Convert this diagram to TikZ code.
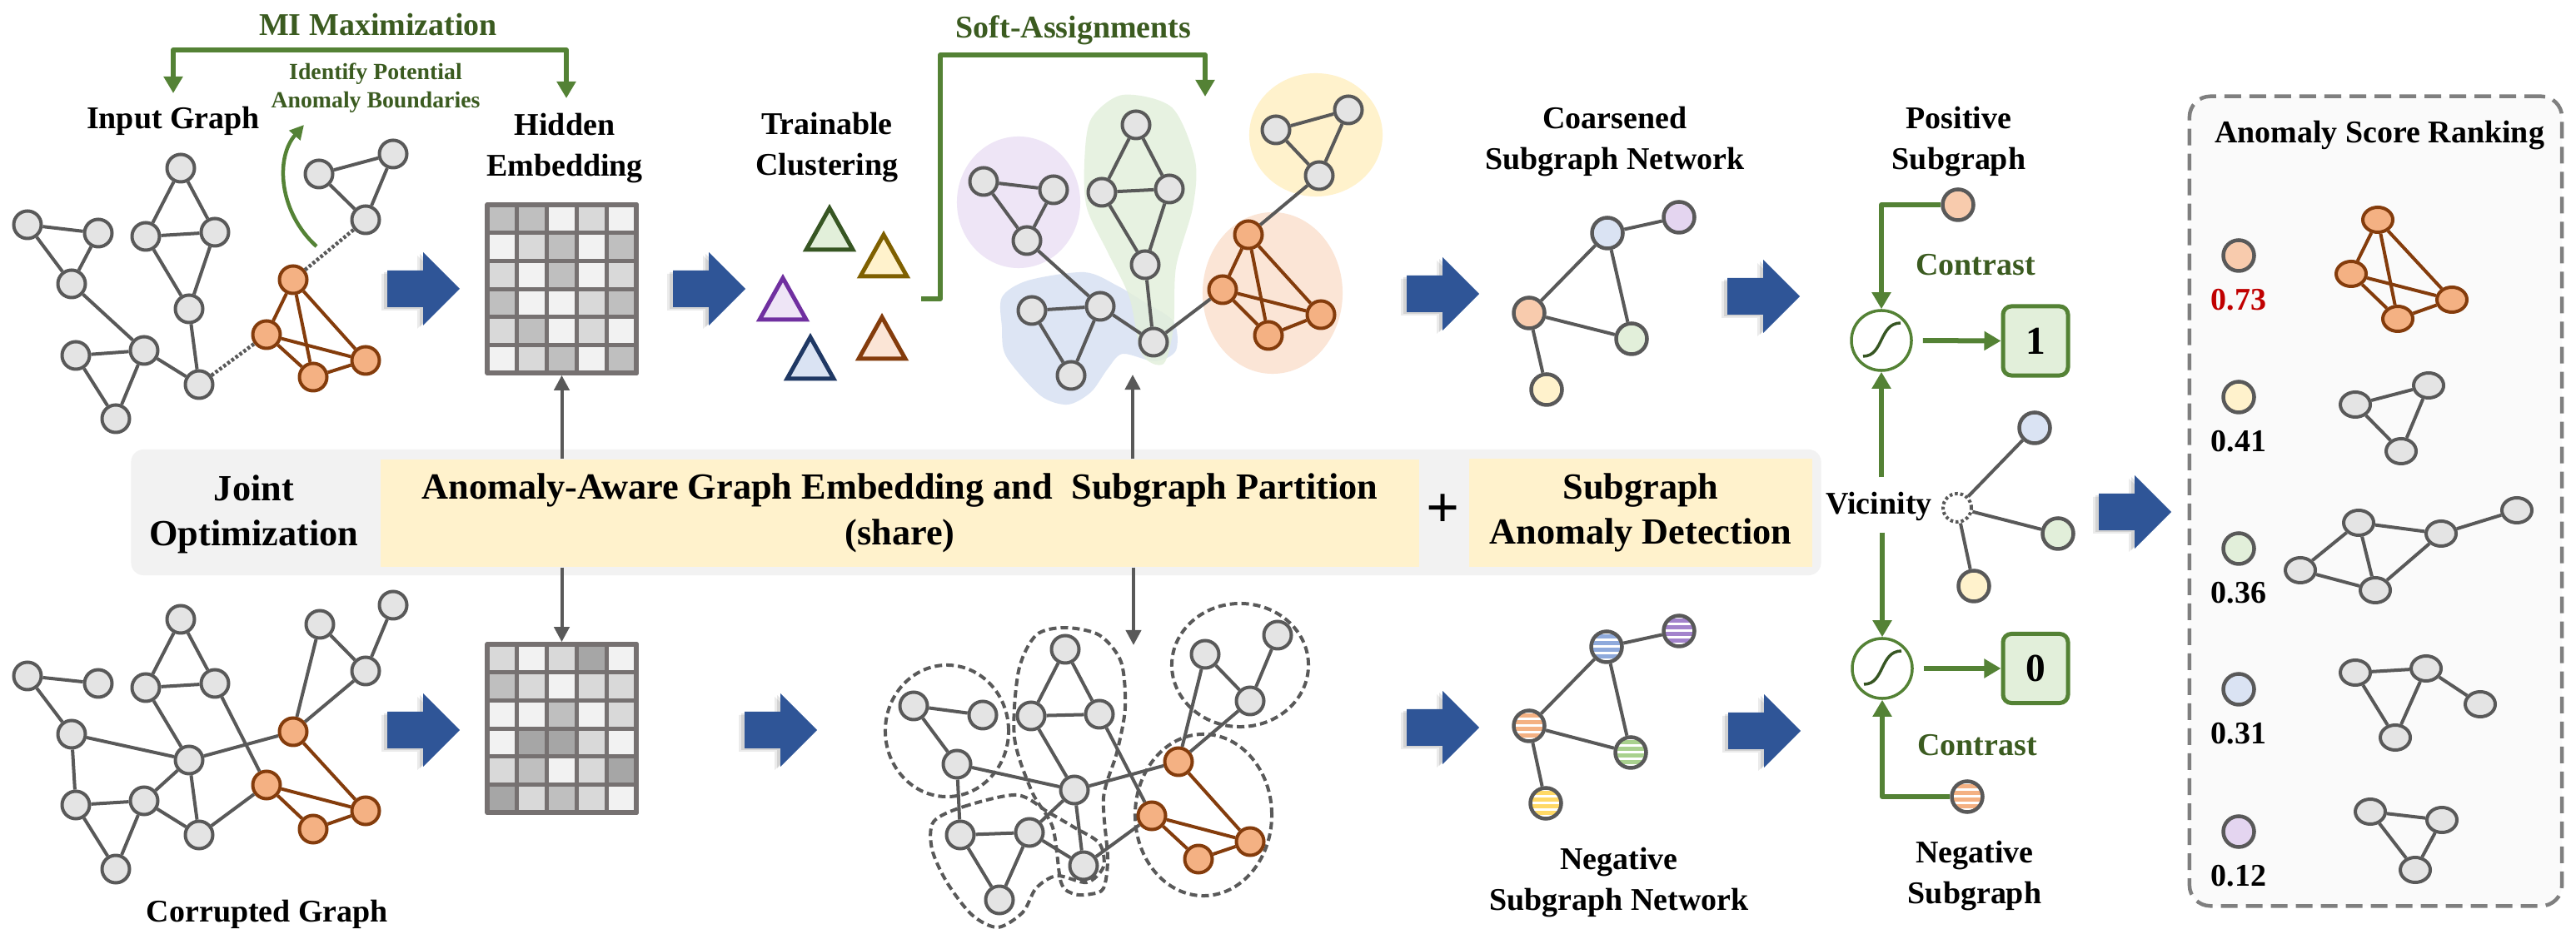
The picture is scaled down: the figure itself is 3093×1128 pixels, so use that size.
\documentclass[tikz,border=0pt]{standalone}
\usepackage{fontspec}
\setmainfont{Liberation Serif}
\usetikzlibrary{arrows.meta,shapes.geometric,calc}

\definecolor{edgegray}{HTML}{595959}
\definecolor{nodegray}{HTML}{E4E4E4}
\definecolor{orangefill}{HTML}{F4B183}
\definecolor{orangeline}{HTML}{843C0C}
\definecolor{arrowblue}{HTML}{2F5597}
\definecolor{linegreen}{HTML}{548235}
\definecolor{textgreen}{HTML}{3B5B20}
\definecolor{gridgray}{HTML}{767171}
\definecolor{cellA}{HTML}{F2F2F2}
\definecolor{cellB}{HTML}{D9D9D9}
\definecolor{cellC}{HTML}{BFBFBF}
\definecolor{cellD}{HTML}{A6A6A6}
\definecolor{bandgray}{HTML}{F2F2F2}
\definecolor{bandyellow}{HTML}{FFF2CC}
\definecolor{lpurple}{HTML}{EEE5F6}
\definecolor{lgreen}{HTML}{E2EFDA}
\definecolor{lblue}{HTML}{DAE3F3}
\definecolor{lyellow}{HTML}{FFF2CC}
\definecolor{lorange}{HTML}{FBE5D6}
\definecolor{corange}{HTML}{F8CBAD}
\definecolor{cpurple}{HTML}{E4D5F0}
\definecolor{tgreen}{HTML}{375623}
\definecolor{tyellow}{HTML}{7F6000}
\definecolor{tpurple}{HTML}{7030A0}
\definecolor{tnavy}{HTML}{1F3864}
\definecolor{sblue}{HTML}{8FAADC}
\definecolor{spurple}{HTML}{A383CC}
\definecolor{sorange}{HTML}{F4B183}
\definecolor{sgreen}{HTML}{A9D18E}
\definecolor{syellow}{HTML}{FFD966}
\definecolor{scorered}{HTML}{C00000}
\definecolor{dashgray}{HTML}{7F7F7F}
\definecolor{rankfill}{HTML}{FAFAFA}

\tikzset{stripenode/.style={cnode, fill=white, path picture={
  \foreach \k in {-12,-4,4,12}
    \fill[#1] ($(path picture bounding box.center)+(-25,\k-2.5)$) rectangle ++(50,5);}}}

\begin{document}
\begin{tikzpicture}[x=0.01cm, y=-0.01cm, line join=round,
  bigarrow/.pic={
    \fill[black, opacity=0.08] (-50,-18) -- (-7,-18) -- (-7,-40) -- (37,4) -- (-7,48) -- (-7,26) -- (-50,26) -- cycle;
    \fill[black, opacity=0.1] (-47,-20) -- (-4,-20) -- (-4,-42) -- (40,2) -- (-4,46) -- (-4,24) -- (-47,24) -- cycle;
    \fill[arrowblue] (-43,-22) -- (0,-22) -- (0,-44) -- (44,0) -- (0,44) -- (0,22) -- (-43,22) -- cycle;
  }]
  \tikzstyle{gnode} = [circle, draw=edgegray, fill=nodegray, line width=0.04cm, minimum size=0.33cm, inner sep=0]
  \tikzstyle{onode} = [gnode, draw=orangeline, fill=orangefill]
  \tikzstyle{cnode} = [circle, draw=edgegray, line width=0.045cm, minimum size=0.37cm, inner sep=0]
  \tikzstyle{rnode} = [ellipse, draw=edgegray, fill=nodegray, line width=0.04cm, minimum width=0.36cm, minimum height=0.30cm, inner sep=0]
  \tikzstyle{ronode} = [rnode, draw=orangeline, fill=orangefill]
  \tikzstyle{gedge} = [draw=edgegray, line width=0.04cm]
  \tikzstyle{oedge} = [draw=orangeline, line width=0.04cm]
  \tikzstyle{dotedge} = [draw=edgegray, line width=0.045cm, dash pattern=on 0.035cm off 0.025cm]
  \tikzstyle{part} = [draw=edgegray, line width=0.04cm, dash pattern=on 0.09cm off 0.05cm]
  \tikzstyle{lbl} = [font=\fontsize{10.8}{13.8}\selectfont\bfseries, align=center]
  \tikzstyle{glbl} = [lbl, text=textgreen]
  \tikzstyle{slbl} = [font=\fontsize{7.9}{9.6}\selectfont\bfseries, text=textgreen, align=center]
  \tikzstyle{bandtxt} = [font=\fontsize{12.6}{15.5}\selectfont\bfseries, align=center]
  \tikzstyle{ybox} = [bandtxt, fill=bandyellow, minimum height=1.29cm, inner sep=0]
  \tikzstyle{embgrid} = [draw=gridgray, line width=0.055cm, minimum width=1.79cm, minimum height=2.02cm, inner sep=0]
  \tikzstyle{grayarrow} = [->, draw=edgegray, line width=0.04cm, >={Triangle[length=0.18cm,width=0.18cm]}]
  \tikzstyle{greenarrow} = [->, draw=linegreen, line width=0.06cm, >={Triangle[length=0.2cm,width=0.22cm]}]
  \tikzstyle{sigm} = [circle, draw=linegreen, line width=0.035cm, minimum size=0.72cm, inner sep=0]
  \tikzstyle{sigline} = [draw=tgreen, line width=0.035cm]
  \tikzstyle{resbox} = [rectangle, rounded corners=0.1cm, draw=linegreen, fill=lgreen, line width=0.05cm, minimum width=0.78cm, minimum height=0.83cm, font=\fontsize{13.5}{14}\selectfont\bfseries]
  \tikzstyle{vicnode} = [circle, draw=edgegray, fill=white, line width=0.04cm, dash pattern=on 0.035cm off 0.03cm, minimum size=0.34cm, inner sep=0]
  \tikzstyle{rankbox} = [draw=dashgray, fill=rankfill, line width=0.045cm, dash pattern=on 0.2cm off 0.1cm, rounded corners=0.25cm, minimum width=4.47cm, minimum height=9.72cm]

  \fill[white] (0,0) rectangle (3093,1128);
  \useasboundingbox (0,0) rectangle (3093,1128);

  % joint optimization band
  \node[fill=bandgray, rounded corners=0.15cm, minimum width=20.28cm, minimum height=1.51cm] (band) at (1172,615.5) {};
  \node[bandtxt] (joint) at (305,618) {Joint\\Optimization};
  \node[ybox, minimum width=12.47cm] (yb1) at (1080.5,616.5) {Anomaly-Aware Graph Embedding and\ \ Subgraph Partition\\(share)};
  \node[font=\fontsize{20}{20}\selectfont\bfseries] (plus) at (1733,614) {+};
  \node[ybox, minimum width=4.12cm] (yb2) at (1970,616) {Subgraph\\Anomaly Detection};

  % labels
  \node[glbl] (milbl) at (454,30) {MI Maximization};
  \node[slbl] (idlbl) at (451,106) {Identify Potential\\Anomaly Boundaries};
  \node[lbl] (inlbl) at (208,145) {Input Graph};
  \node[lbl] (hidlbl) at (678,178) {Hidden\\Embedding};
  \node[lbl] (trlbl) at (993,177) {Trainable\\Clustering};
  \node[glbl] (salbl) at (1289,36) {Soft-Assignments};
  \node[lbl] (coarlbl) at (1939,170) {Coarsened\\Subgraph Network};
  \node[lbl] (poslbl) at (2352,170) {Positive\\Subgraph};
  \node[lbl] (corlbl) at (321,1098) {Corrupted Graph};
  \node[lbl] (negnetlbl) at (1944,1060) {Negative\\Subgraph Network};
  \node[lbl] (neglbl) at (2371,1052) {Negative\\Subgraph};

  % input graph
  \node[gnode] (in1) at (33,270) {};
  \node[gnode] (in2) at (118,280) {};
  \node[gnode] (in3) at (86,341) {};
  \node[gnode] (in4) at (217,202) {};
  \node[gnode] (in5) at (175,284) {};
  \node[gnode] (in6) at (258,279) {};
  \node[gnode] (in7) at (227,371) {};
  \node[gnode] (in8) at (91,427) {};
  \node[gnode] (in9) at (173,421) {};
  \node[gnode] (in10) at (239,462) {};
  \node[gnode] (in11) at (139,503) {};
  \node[gnode] (in12) at (383,209) {};
  \node[gnode] (in13) at (472,185) {};
  \node[gnode] (in14) at (439,264) {};
  \node[onode] (ina) at (352,336) {};
  \node[onode] (inb) at (320,402) {};
  \node[onode] (inc) at (439,433) {};
  \node[onode] (ind) at (376,453) {};
  \foreach \a/\b in {in1/in2,in1/in3,in2/in3,in3/in9,in4/in5,in4/in6,in5/in6,in5/in7,in6/in7,in7/in10,in8/in9,in8/in11,in9/in11,in9/in10,in12/in13,in12/in14,in13/in14}
    \draw[gedge] (\a) -- (\b);
  \foreach \a/\b in {ina/inb,ina/inc,ina/ind,inb/inc,inb/ind,inc/ind}
    \draw[oedge] (\a) -- (\b);
  \draw[dotedge] (in10) -- (inb) (ina) -- (in14);

  % corrupted graph
  \node[gnode] (co1) at (33,812) {};
  \node[gnode] (co2) at (118,821) {};
  \node[gnode] (co3) at (86,882) {};
  \node[gnode] (co4) at (217,744) {};
  \node[gnode] (co5) at (175,826) {};
  \node[gnode] (co6) at (258,821) {};
  \node[gnode] (co7) at (227,913) {};
  \node[gnode] (co8) at (91,967) {};
  \node[gnode] (co9) at (173,962) {};
  \node[gnode] (co10) at (239,1003) {};
  \node[gnode] (co11) at (139,1044) {};
  \node[gnode] (co12) at (384,750) {};
  \node[gnode] (co13) at (472,727) {};
  \node[gnode] (co14) at (439,806) {};
  \node[onode] (coa) at (352,879) {};
  \node[onode] (cob) at (320,943) {};
  \node[onode] (coc) at (439,974) {};
  \node[onode] (cod) at (376,996) {};
  \foreach \a/\b in {co1/co2,co1/co3,co3/co7,co3/co8,co4/co5,co4/co6,co5/co6,co5/co7,co6/cob,co7/coa,co7/co9,co7/co10,co8/co9,co8/co11,co9/co11,co9/co10,co10/cob,co12/co14,co13/co14,co12/coa,co14/coa}
    \draw[gedge] (\a) -- (\b);
  \foreach \a/\b in {coa/coc,cob/coc,cob/cod,cod/coc}
    \draw[oedge] (\a) -- (\b);

  % blue block arrows
  \pic (ar1) at (508,347) {bigarrow};
  \pic (ar2) at (851,347) {bigarrow};
  \pic (ar3) at (1732,353) {bigarrow};
  \pic (ar4) at (2117,356) {bigarrow};
  \pic (ar5) at (2563,615) {bigarrow};
  \pic (ar6) at (508,877) {bigarrow};
  \pic (ar7) at (937,877) {bigarrow};
  \pic (ar8) at (1732,874) {bigarrow};
  \pic (ar9) at (2118,878) {bigarrow};

  % hidden embeddings
  \foreach \cells [count=\r from 0] in {{C,C,A,B,A},{A,B,C,A,C},{B,A,C,A,B},{C,A,A,B,C},{B,C,A,B,A},{A,B,C,A,C}}
    \foreach \c [count=\k from 0] in \cells
      \filldraw[fill=cell\c, draw=gridgray, line width=0.05cm] (585+35.8*\k,246+33.67*\r) rectangle ++(35.8,33.67);
  \node[embgrid] (embtop) at (674.5,347) {};
  \foreach \cells [count=\r from 0] in {{B,A,B,D,A},{C,B,A,B,B},{A,A,C,A,B},{A,D,D,B,A},{B,C,A,B,D},{D,B,C,B,A}}
    \foreach \c [count=\k from 0] in \cells
      \filldraw[fill=cell\c, draw=gridgray, line width=0.05cm] (585+35.8*\k,774+33.67*\r) rectangle ++(35.8,33.67);
  \node[embgrid] (embbot) at (674.5,875) {};

  % trainable clusters
  \foreach \x/\y/\c/\f in {996/250/tgreen/lgreen, 1061/282/tyellow/lyellow, 940/334/tpurple/lpurple, 1059/381/orangeline/lorange, 973/405/tnavy/lblue}
    \filldraw[draw=\c, fill=\f, line width=0.05cm, line join=miter] (\x,\y) -- ++(-28,50) -- ++(56,0) -- cycle;

  % soft-assigned graph
  \fill[lpurple] (1223,243) ellipse [x radius=0.74cm, y radius=0.79cm];
  \fill[lyellow] (1580,162) ellipse [x radius=0.80cm, y radius=0.74cm];
  \fill[lorange] (1528,352) ellipse [x radius=0.84cm, y radius=0.97cm];
  \fill[lblue, opacity=0.9] plot[smooth cycle] coordinates {(1203,357) (1234,337) (1302,327) (1341,343) (1371,361) (1409,386) (1412,421) (1387,434) (1348,425) (1330,443) (1310,471) (1282,486) (1249,475) (1208,428) (1203,393)};
  \fill[lgreen, opacity=0.8] plot[smooth cycle] coordinates {(1310,143) (1348,114) (1407,129) (1435,193) (1432,250) (1412,321) (1409,393) (1397,437) (1371,425) (1356,357) (1330,303) (1305,250) (1302,196)};
  \node[gnode] (clp1) at (1181,218) {};
  \node[gnode] (clp2) at (1265,228) {};
  \node[gnode] (clp3) at (1233,289) {};
  \node[gnode] (clg1) at (1364,150) {};
  \node[gnode] (clg2) at (1323,231) {};
  \node[gnode] (clg3) at (1404,227) {};
  \node[gnode] (clg4) at (1375,318) {};
  \node[gnode] (clg5) at (1385,411) {};
  \node[gnode] (clu1) at (1239,373) {};
  \node[gnode] (clu2) at (1321,368) {};
  \node[gnode] (clu3) at (1286,451) {};
  \node[gnode] (cly1) at (1532,156) {};
  \node[gnode] (cly2) at (1619,132) {};
  \node[gnode] (cly3) at (1584,211) {};
  \node[onode] (cla) at (1499,282) {};
  \node[onode] (clb) at (1468,348) {};
  \node[onode] (clc) at (1586,378) {};
  \node[onode] (cld) at (1523,403) {};
  \foreach \a/\b in {clp1/clp2,clp1/clp3,clp2/clp3,clp3/clu2,clu1/clu2,clu1/clu3,clu2/clu3,clu2/clg5,clg1/clg2,clg1/clg3,clg2/clg3,clg2/clg4,clg3/clg4,clg4/clg5,clg5/clb,cla/cly3,cly1/cly2,cly1/cly3,cly2/cly3}
    \draw[gedge] (\a) -- (\b);
  \foreach \a/\b in {cla/clb,cla/clc,cla/cld,clb/clc,clb/cld,clc/cld}
    \draw[oedge] (\a) -- (\b);

  % partitioned corrupted graph
  \draw[part] (1137,878) ellipse [x radius=0.74cm, y radius=0.79cm];
  \draw[part] plot[smooth cycle] coordinates {(1223,806) (1218,886) (1239,951) (1264,994) (1274,1060) (1290,1074) (1310,1074) (1325,1067) (1330,1031) (1325,958) (1341,904) (1351,850) (1346,795) (1320,763) (1279,754) (1244,763)};
  \draw[part] plot[smooth cycle] coordinates {(1121,987) (1157,969) (1221,955) (1259,976) (1290,994) (1320,1013) (1325,1041) (1305,1060) (1269,1052) (1244,1067) (1228,1096) (1198,1114) (1167,1099) (1137,1060) (1119,1020)};
  \draw[part] (1489,799) ellipse [x radius=0.82cm, y radius=0.74cm];
  \draw[part] (1445,979) ellipse [x radius=0.82cm, y radius=0.97cm];
  \node[gnode] (pa1) at (1097,848) {};
  \node[gnode] (pa2) at (1180,859) {};
  \node[gnode] (pa3) at (1149,918) {};
  \node[gnode] (pa4) at (1279,780) {};
  \node[gnode] (pa5) at (1238,860) {};
  \node[gnode] (pa6) at (1320,858) {};
  \node[gnode] (pa7) at (1290,949) {};
  \node[gnode] (pa8) at (1153,1003) {};
  \node[gnode] (pa9) at (1236,1000) {};
  \node[gnode] (pa10) at (1301,1040) {};
  \node[gnode] (pa11) at (1200,1081) {};
  \node[gnode] (pa12) at (1447,786) {};
  \node[gnode] (pa13) at (1534,763) {};
  \node[gnode] (pa14) at (1501,842) {};
  \node[onode] (paa) at (1415,915) {};
  \node[onode] (pab) at (1383,980) {};
  \node[onode] (pac) at (1501,1011) {};
  \node[onode] (pad) at (1439,1032) {};
  \foreach \a/\b in {pa1/pa2,pa1/pa3,pa3/pa7,pa3/pa8,pa4/pa5,pa4/pa6,pa5/pa6,pa5/pa7,pa6/pab,pa7/paa,pa7/pa9,pa7/pa10,pa8/pa9,pa8/pa11,pa9/pa11,pa9/pa10,pa10/pab,pa12/pa14,pa13/pa14,pa12/paa,pa14/paa}
    \draw[gedge] (\a) -- (\b);
  \foreach \a/\b in {paa/pac,pab/pac,pab/pad,pad/pac}
    \draw[oedge] (\a) -- (\b);

  % shared module arrows
  \coordinate (clus_in) at (1360,450);
  \coordinate (part_in) at (1361,775);
  \draw[grayarrow] (yb1.north -| embtop) -- (embtop.south);
  \draw[grayarrow] (yb1.south -| embbot) -- (embbot.north);
  \draw[grayarrow] (yb1.north -| clus_in) -- (clus_in);
  \draw[grayarrow] (yb1.south -| part_in) -- (part_in);

  % green feedback arrows
  \coordinate (mi_l) at (208,112);
  \coordinate (mi_r) at (680,118);
  \draw[greenarrow, <->] (mi_l) -- ++(0,-52) -| (mi_r);
  \coordinate (id_s) at (380,296);
  \coordinate (id_e) at (365,150);
  \draw[greenarrow, line width=0.045cm, >={Triangle[length=0.17cm,width=0.17cm]}] (id_s) .. controls (335,255) and (330,190) .. (id_e);
  \coordinate (sa_s) at (1106,359);
  \coordinate (sa_e) at (1447,116);
  \draw[greenarrow] (sa_s) -- ++(23,0) -- ++(0,-293) -| (sa_e);

  % coarsened and negative subgraph networks
  \node[cnode, fill=lblue] (csb) at (1930,280) {};
  \node[cnode, fill=cpurple] (csp) at (2016,261) {};
  \node[cnode, fill=corange] (cso) at (1836,376) {};
  \node[cnode, fill=lgreen] (csg) at (1959,407) {};
  \node[cnode, fill=lyellow] (csy) at (1857,468) {};
  \draw[gedge] (csb) -- (csp) (csb) -- (cso) (csb) -- (csg) (cso) -- (csg) (cso) -- (csy);
  \node[stripenode=sblue] (ngb) at (1929,777) {};
  \node[stripenode=spurple] (ngp) at (2016,758) {};
  \node[stripenode=sorange] (ngo) at (1836,872) {};
  \node[stripenode=sgreen] (ngg) at (1958,904) {};
  \node[stripenode=syellow] (ngy) at (1856,965) {};
  \draw[gedge] (ngb) -- (ngp) (ngb) -- (ngo) (ngb) -- (ngg) (ngo) -- (ngg) (ngo) -- (ngy);

  % contrast
  \node[cnode, fill=corange] (posn) at (2351,246) {};
  \node[glbl] (ct1) at (2372,318) {Contrast};
  \node[sigm] (sig1) at (2259,409) {};
  \node[resbox] (res1) at (2444,409.5) {1};
  \node[lbl] (viclbl) at (2256,608) {Vicinity};
  \node[vicnode] (vic0) at (2350,610) {};
  \node[cnode, fill=lblue] (vicb) at (2443,514) {};
  \node[cnode, fill=lgreen] (vicg) at (2471,641) {};
  \node[cnode, fill=lyellow] (vicy) at (2370,704) {};
  \draw[gedge] (vic0) -- (vicb) (vic0) -- (vicg) (vic0) -- (vicy);
  \node[sigm] (sig2) at (2260,803) {};
  \node[resbox] (res0) at (2444,803) {0};
  \node[glbl] (ct2) at (2374,895) {Contrast};
  \node[stripenode=sorange] (negn) at (2362,957) {};
  \draw[sigline] ($(sig1)+(-22,19)$) .. controls ($(sig1)+(3,19)$) and ($(sig1)+(-3,-21)$) .. ($(sig1)+(23,-21)$);
  \draw[sigline] ($(sig2)+(-22,19)$) .. controls ($(sig2)+(3,19)$) and ($(sig2)+(-3,-21)$) .. ($(sig2)+(23,-21)$);
  \draw[greenarrow] (posn.west) -| (sig1.north);
  \draw[greenarrow] (negn.west) -| (sig2.south);
  \draw[greenarrow, shorten <=0.05cm] (viclbl.north -| sig1) -- (sig1.south);
  \draw[greenarrow, shorten <=0.02cm] (viclbl.south -| sig2) -- (sig2.north);
  \draw[greenarrow, shorten <=0.12cm] (sig1.east) -- (res1.west);
  \draw[greenarrow, shorten <=0.12cm] (sig2.east) -- (res0.west);

  % anomaly score ranking
  \node[rankbox] (rank) at (2852.5,602) {};
  \node[lbl] (ranklbl) at (2857,163) {Anomaly Score Ranking};
  \foreach \n/\y/\c/\s/\tc in {1/307/corange/0.73/scorered, 2/477/lyellow/0.41/black, 3/659/lgreen/0.36/black, 4/828/lblue/0.31/black, 5/999/cpurple/0.12/black} {
    \node[cnode, fill=\c] (sc\n) at (2688,\y) {};
    \node[lbl, text=\tc] (sv\n) at (2688,\y+53) {\s};
  }
  \node[ronode] (rk1a) at (2855,264) {};
  \node[ronode] (rk1b) at (2823,329) {};
  \node[ronode] (rk1c) at (2944,360) {};
  \node[ronode] (rk1d) at (2879,383) {};
  \foreach \a/\b in {rk1a/rk1b,rk1a/rk1c,rk1a/rk1d,rk1b/rk1c,rk1b/rk1d,rk1c/rk1d}
    \draw[oedge] (\a) -- (\b);
  \node[rnode] (rk2a) at (2828,486) {};
  \node[rnode] (rk2b) at (2916,463) {};
  \node[rnode] (rk2c) at (2883,542) {};
  \node[rnode] (rk3a) at (2762,685) {};
  \node[rnode] (rk3b) at (2832,628) {};
  \node[rnode] (rk3c) at (2852,709) {};
  \node[rnode] (rk3d) at (2931,641) {};
  \node[rnode] (rk3e) at (3022,613) {};
  \node[rnode] (rk4a) at (2828,808) {};
  \node[rnode] (rk4b) at (2913,803) {};
  \node[rnode] (rk4c) at (2876,886) {};
  \node[rnode] (rk4d) at (2978,846) {};
  \node[rnode] (rk5a) at (2846,975) {};
  \node[rnode] (rk5b) at (2932,985) {};
  \node[rnode] (rk5c) at (2900,1045) {};
  \foreach \a/\b in {rk2a/rk2b,rk2a/rk2c,rk2b/rk2c,rk3a/rk3b,rk3a/rk3c,rk3b/rk3c,rk3b/rk3d,rk3c/rk3d,rk3d/rk3e,rk4a/rk4b,rk4a/rk4c,rk4b/rk4c,rk4b/rk4d,rk5a/rk5b,rk5a/rk5c,rk5b/rk5c}
    \draw[gedge] (\a) -- (\b);
\end{tikzpicture}
\end{document}
